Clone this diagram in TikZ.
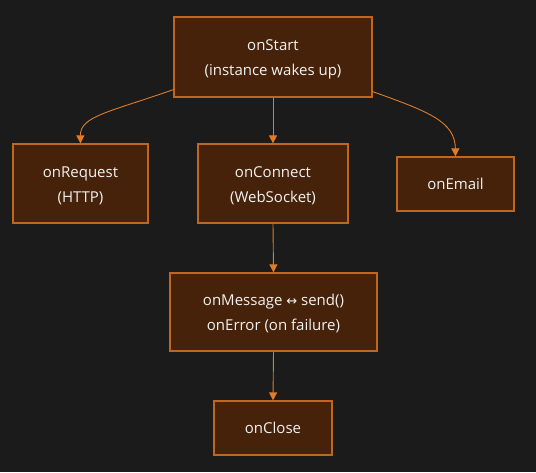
\documentclass[tikz,border=0pt]{standalone}
\usepackage{fontspec}
\setmainfont{Open Sans}
\newfontfamily\symfont{DejaVu Sans}
\usetikzlibrary{arrows.meta,calc}
\definecolor{bg}{HTML}{1B1B1B}
\definecolor{boxfill}{HTML}{452209}
\definecolor{boxline}{HTML}{C0661E}
\definecolor{edge}{HTML}{E07B29}
\definecolor{txt}{HTML}{F2F2F2}
\newcommand{\topstrut}{\rule{0pt}{15pt}}
\begin{document}
\begin{tikzpicture}[x=1pt,y=-1pt,
  box/.style={draw=boxline,fill=boxfill,line width=1.2pt,text=txt,align=center,inner sep=0pt,
    font=\fontsize{15}{25}\selectfont},
  conn/.style={draw=edge,line width=0.9pt,-{Triangle[length=8pt,width=8pt]}}]
\fill[bg] (0,0) rectangle (536,472);
\useasboundingbox (0,0) rectangle (536,472);
\node[box,minimum width=198pt,minimum height=80pt] (s) at (273,57) {\topstrut onStart\\(instance wakes up)};
\node[box,minimum width=135pt,minimum height=79pt] (r) at (80.5,183.5) {\topstrut onRequest\\(HTTP)};
\node[box,minimum width=150pt,minimum height=79pt] (c) at (273,183.5) {\topstrut onConnect\\(WebSocket)};
\node[box,minimum width=117pt,minimum height=54pt] (e) at (455.5,184) {onEmail};
\node[box,minimum width=207pt,minimum height=78pt] (m) at (273.5,312) {\topstrut onMessage {\symfont\fontsize{13}{25}\selectfont ↔} send()\\onError (on failure)};
\node[box,minimum width=118pt,minimum height=54pt] (x) at (273,428) {onClose};
\draw[conn] ([yshift=8pt]s.south west) .. controls (110,112) and (80,116) .. (r.north);
\draw[conn] ([yshift=6pt]s.south east) .. controls (430,112) and (455,122) .. (e.north);
\draw[conn] (s.south) -- (c.north);
\draw[conn] (c.south) -- (m.north);
\draw[conn] (m.south) -- (x.north);
\end{tikzpicture}
\end{document}
